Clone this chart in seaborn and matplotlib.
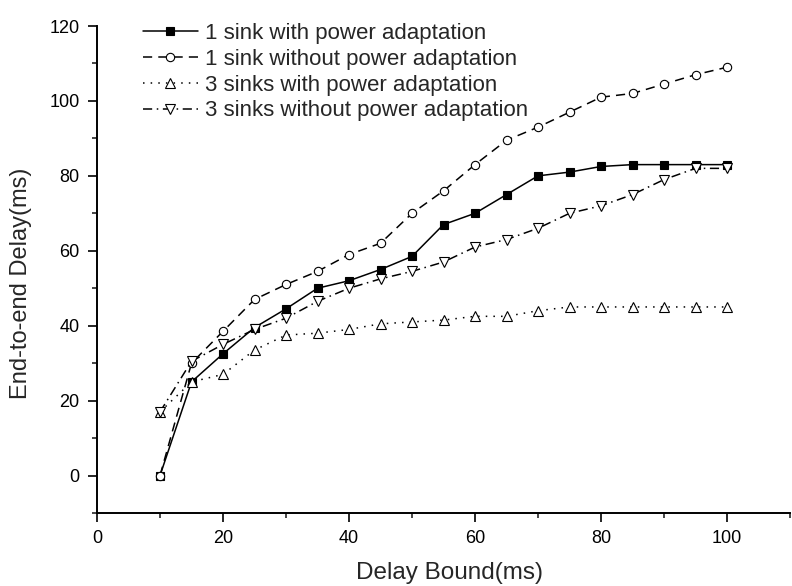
import numpy as np
import pandas as pd
import matplotlib
matplotlib.use('Agg')
import matplotlib.pyplot as plt
import seaborn as sns
from matplotlib.ticker import MultipleLocator

# data
delay_bound = [10, 15, 20, 25, 30, 35, 40, 45, 50, 55, 60, 65, 70, 75, 80, 85, 90, 95, 100]
one_sink_pa = [0, 25, 32.5, 39.5, 44.5, 50, 52, 55, 58.5, 67, 70, 75, 80, 81, 82.5, 83, 83, 83, 83]
one_sink_nopa = [0, 30, 38.5, 47, 51, 54.5, 59, 62, 70, 76, 83, 89.5, 93, 97, 101, 102, 104.5, 107, 109]
three_sinks_pa = [17, 25, 27, 33.5, 37.5, 38, 39, 40.5, 41, 41.5, 42.5, 42.5, 44, 45, 45, 45, 45, 45, 45]
three_sinks_nopa = [17, 30.5, 35, 39, 42, 46.5, 50, 52.5, 54.5, 57, 61, 63, 66, 70, 72, 75, 79, 82, 82]

series_names = ['1 sink with power adaptation', '1 sink without power adaptation',
                '3 sinks with power adaptation', '3 sinks without power adaptation']
series_values = [one_sink_pa, one_sink_nopa, three_sinks_pa, three_sinks_nopa]

sns.set_style('ticks')
plt.rcParams['font.family'] = ['Liberation Sans', 'DejaVu Sans']

fig = plt.figure(figsize=(7.92, 5.86), dpi=100)
ax = fig.add_axes([0.1225, 0.1246, 0.875, 0.831])

styles = [
    dict(marker='s', linestyle='-', markerfacecolor='black', markersize=5.5),
    dict(marker='o', linestyle=(0, (6, 4)), markerfacecolor='white', markersize=6),
    dict(marker='^', linestyle=(0, (1, 4)), markerfacecolor='white', markersize=7),
    dict(marker='v', linestyle=(0, (6, 3, 1, 3)), markerfacecolor='white', markersize=7),
]

for name, vals, st in zip(series_names, series_values, styles):
    sns.lineplot(x=delay_bound, y=vals, ax=ax, color='black', linewidth=1.1,
                 markeredgecolor='black', markeredgewidth=0.8,
                 label=name, **st)

ax.set_xlim(0, 110)
ax.set_ylim(-10, 120)
ax.xaxis.set_major_locator(MultipleLocator(20))
ax.xaxis.set_minor_locator(MultipleLocator(10))
ax.yaxis.set_major_locator(MultipleLocator(20))
ax.yaxis.set_minor_locator(MultipleLocator(10))
ax.set_xticks([0, 20, 40, 60, 80, 100])
ax.tick_params(which='major', direction='out', length=6.5, width=1.2, pad=6,
               labelsize=13, colors='black')
ax.tick_params(which='minor', direction='out', length=3.5, width=1.2)

for s in ['top', 'right']:
    ax.spines[s].set_visible(False)
for s in ['left', 'bottom']:
    ax.spines[s].set_linewidth(1.4)
    ax.spines[s].set_color('black')

ax.set_xlabel('Delay Bound(ms)', fontsize=17.5)
ax.set_ylabel('End-to-end Delay(ms)', fontsize=17)
ax.xaxis.set_label_coords(0.508, -0.10)
ax.yaxis.set_label_coords(-0.094, 0.472)

ax.legend(loc='upper left', bbox_to_anchor=(0.053, 1.025), frameon=False, fontsize=16,
          handlelength=2.5, handletextpad=0.3, labelspacing=0.22, borderaxespad=0)

fig.savefig('out.png', dpi=100)
